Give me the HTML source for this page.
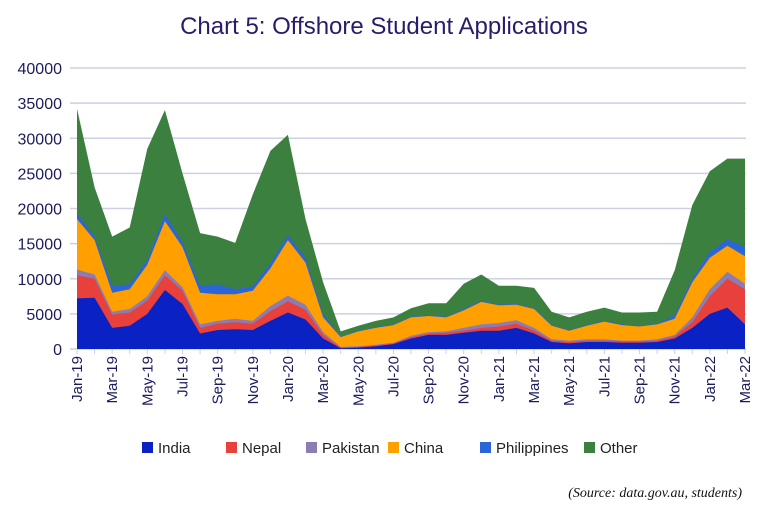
<!DOCTYPE html>
<html><head><meta charset="utf-8"><style>
body{margin:0;background:#fff;}
svg{display:block;font-family:"Liberation Sans",sans-serif;}
</style></head><body>
<svg id="s" width="768" height="512" xmlns="http://www.w3.org/2000/svg">
<text x="384" y="34" text-anchor="middle" font-size="24" fill="#2b1b6b">Chart 5: Offshore Student Applications</text>
<g id="grid"></g><g id="areas"></g><g id="labels"></g>
<g font-size="15" fill="#222">
<rect x="142" y="442" width="11" height="11" fill="#0a22c4"/><text x="158" y="453">India</text>
<rect x="226" y="442" width="11" height="11" fill="#e8403a"/><text x="242" y="453">Nepal</text>
<rect x="306" y="442" width="11" height="11" fill="#8b7db3"/><text x="322" y="453">Pakistan</text>
<rect x="388" y="442" width="11" height="11" fill="#ffa000"/><text x="404" y="453">China</text>
<rect x="480" y="442" width="11" height="11" fill="#2a66da"/><text x="496" y="453">Philippines</text>
<rect x="584" y="442" width="11" height="11" fill="#3b803f"/><text x="600" y="453">Other</text>
</g>
<text x="742" y="497" text-anchor="end" font-size="14" font-style="italic" font-family="Liberation Serif,serif" fill="#111">(Source: data.gov.au, students)</text>
</svg>
<script>
var d=[[7.2,10.5,11.3,18.5,19.3,34.2],[7.3,10,10.6,15.5,16,23],[3,4.9,5.3,8,9,16],[3.3,5.2,5.7,8.5,9.2,17.3],[5,6.9,7.5,12,12.7,28.5],[8.4,10.5,11.2,18.2,19.2,34],[6.4,8.3,8.8,14.5,15.2,25],[2.2,3,3.5,8,9,16.5],[2.7,3.6,4,7.8,9.2,16],[2.8,3.8,4.3,7.8,8.5,15.1],[2.7,3.6,4,8.3,8.9,22],[4,5.4,6.1,11.5,12.2,28.2],[5.2,6.8,7.6,15.5,16.2,30.5],[4.2,5.6,6.3,12.3,13,18.5],[1.5,2,2.4,4.5,5,9.5],[0.1,0.2,0.3,1.7,1.8,2.5],[0.2,0.3,0.4,2.5,2.6,3.3],[0.4,0.5,0.6,3,3.1,4],[0.7,0.8,0.9,3.4,3.5,4.5],[1.5,1.7,1.9,4.5,4.6,5.8],[2,2.2,2.4,4.7,4.8,6.5],[2,2.3,2.5,4.5,4.6,6.5],[2.3,2.6,3,5.5,5.7,9.3],[2.6,3,3.5,6.7,6.9,10.6],[2.6,3.2,3.7,6.2,6.3,9],[3,3.6,4.1,6.3,6.4,9],[2.2,2.6,3,5.7,5.8,8.7],[1,1.2,1.4,3.3,3.4,5.3],[0.8,1,1.2,2.6,2.7,4.5],[1,1.2,1.4,3.3,3.4,5.3],[1,1.2,1.4,3.9,4,5.9],[0.9,1.1,1.2,3.4,3.5,5.2],[0.9,1.1,1.2,3.2,3.3,5.2],[1,1.2,1.4,3.5,3.6,5.3],[1.5,1.8,2,4.3,4.8,11.2],[3,3.8,4.5,9.5,10,20.5],[5,7.5,8.5,13,13.8,25.3],[5.9,10,11,14.7,15.6,27.1],[3.5,8.5,9.3,13.2,14.5,27.1]];
var col=["#0a22c4","#e8403a","#8b7db3","#ffa000","#2a66da","#3b803f"];
var X=i=>77+i*(745-77)/38, Y=v=>349-v*7.025;
var ns="http://www.w3.org/2000/svg",g=document.getElementById("grid"),a=document.getElementById("areas"),l=document.getElementById("labels");
function el(t,at,p,txt){var e=document.createElementNS(ns,t);for(var k in at)e.setAttribute(k,at[k]);if(txt)e.textContent=txt;p.appendChild(e);return e;}
for(var k=0;k<=8;k++){var v=k*5,y=Y(v);if(k>0)el("line",{x1:70,x2:746,y1:y,y2:y,stroke:"#cfcfe6","stroke-width":1.5},g);
el("text",{x:62,y:y+6,"text-anchor":"end","font-size":16,fill:"#1b1b5e"},l,String(v*1000));}
el("line",{x1:70,x2:746,y1:349,y2:349,stroke:"#cfcfe6","stroke-width":1.5},g);
for(var s=5;s>=0;s--){var p="M"+X(0)+","+Y(0);for(var i=0;i<39;i++)p+="L"+X(i).toFixed(1)+","+Y(d[i][s]).toFixed(1);p+="L"+X(38)+","+Y(0)+"Z";el("path",{d:p,fill:col[s]},a);}
var m=["Jan","Mar","May","Jul","Sep","Nov"];
for(var i=0;i<39;i++){el("line",{x1:X(i),x2:X(i),y1:349,y2:354,stroke:"#cfcfe6"},g);
if(i%2==0){var yr=19+Math.floor(i/12);var t=m[(i%12)/2]+"-"+yr;var x=X(i)+5;el("text",{x:x,y:356,"text-anchor":"end","font-size":15,fill:"#1b1b5e",transform:"rotate(-90 "+x+" 356)"},l,t);}}
</script>
</body></html>
